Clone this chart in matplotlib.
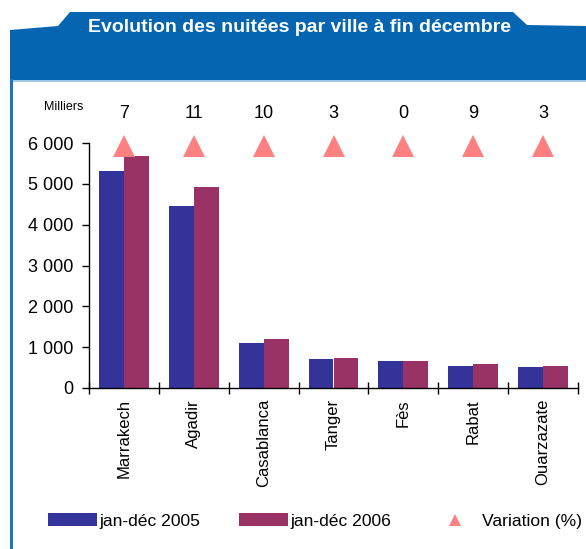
import matplotlib
matplotlib.use("Agg")
import matplotlib.pyplot as plt
from matplotlib.patches import Polygon, Patch
from matplotlib.lines import Line2D
from matplotlib.ticker import FuncFormatter, FixedLocator
import numpy as np

plt.rcParams['font.family'] = ['Liberation Sans', 'DejaVu Sans']

villes = ["Marrakech", "Agadir", "Casablanca", "Tanger", "Fès", "Rabat", "Ouarzazate"]
nuitees_2005 = [5306, 4449, 1094, 705, 653, 531, 525]
nuitees_2006 = [5673, 4914, 1203, 727, 653, 580, 540]
variation = [7, 11, 10, 3, 0, 9, 3]

W, H = 586, 549
fig = plt.figure(figsize=(W / 100, H / 100), dpi=100)

def fx(px):
    return px / W

def fy(py):
    return (H - py) / H

# header band with tab
blue = '#0565b0'
pts = [(10, 80), (10, 30), (58, 26), (70, 12), (513, 12), (527, 25), (586, 26), (586, 80)]
fig.patches.append(Polygon([(fx(x), fy(y)) for x, y in pts], closed=True,
                           transform=fig.transFigure, facecolor=blue, edgecolor='none'))
fig.add_artist(Line2D([fx(12), fx(586)], [fy(81), fy(81)], color='#8fbbe2', lw=1.2))
fig.add_artist(Line2D([fx(10.8), fx(10.8)], [fy(80), fy(547)], color='#1f73c0', lw=2.2))
fig.text(fx(300), fy(27), "Evolution des nuitées par ville à fin décembre",
         color='white', fontsize=14, fontweight='bold', ha='center', va='center')

ax = fig.add_axes([fx(89), fy(388), fx(578) - fx(89), fy(143) - fy(388)])

x = np.arange(len(villes))
bw = 0.357
ax.bar(x - bw / 2, nuitees_2005, bw, color='#333399', label='jan-déc 2005')
ax.bar(x + bw / 2, nuitees_2006, bw, color='#993366', label='jan-déc 2006')

ax.set_xlim(-0.5, len(villes) - 0.5)
ax.set_ylim(0, 6000)
ax.set_yticks(np.arange(0, 6001, 1000))
ax.yaxis.set_major_formatter(FuncFormatter(lambda v, p: f"{int(v):,}".replace(",", " ")))
ax.tick_params(axis='y', length=5, width=1, pad=6, labelsize=13, direction='out')

ax.set_xticks(x)
ax.set_xticklabels(villes, rotation=90, fontsize=12, va='top')
ax.tick_params(axis='x', which='major', length=0, pad=8)
ax.xaxis.set_minor_locator(FixedLocator(np.arange(-0.5, len(villes), 1.0)))
ax.tick_params(axis='x', which='minor', length=9, width=1, direction='inout')

for s in ['top', 'right']:
    ax.spines[s].set_visible(False)
for s in ['left', 'bottom']:
    ax.spines[s].set_linewidth(1)
    ax.spines[s].set_color('black')

# variation markers and labels
tr = ax.get_xaxis_transform()
ax.plot(x, [0.988] * len(x), linestyle='none', marker='^', markersize=16,
        color='#ff8080', markeredgewidth=0, transform=tr, clip_on=False)
for xi, v in zip(x, variation):
    ax.text(xi, 1.122, str(v), transform=tr, ha='center', va='center', fontsize=13)

fig.text(fx(64), fy(107), "Milliers", fontsize=9, ha='center', va='center')

handles = [Patch(facecolor='#333399', label='jan-déc 2005'),
           Patch(facecolor='#993366', label='jan-déc 2006'),
           Line2D([], [], linestyle='none', marker='^', markersize=9, color='#ff8080',
                  markeredgewidth=0, label='Variation (%)')]
fig.legend(handles=handles, loc='center left', bbox_to_anchor=(fx(48), fy(521)),
           ncol=3, frameon=False, fontsize=12.6, handlelength=2.8, handleheight=0.7,
           handletextpad=0.12, columnspacing=2.25, borderpad=0, borderaxespad=0)

fig.savefig("out.png", dpi=100)
